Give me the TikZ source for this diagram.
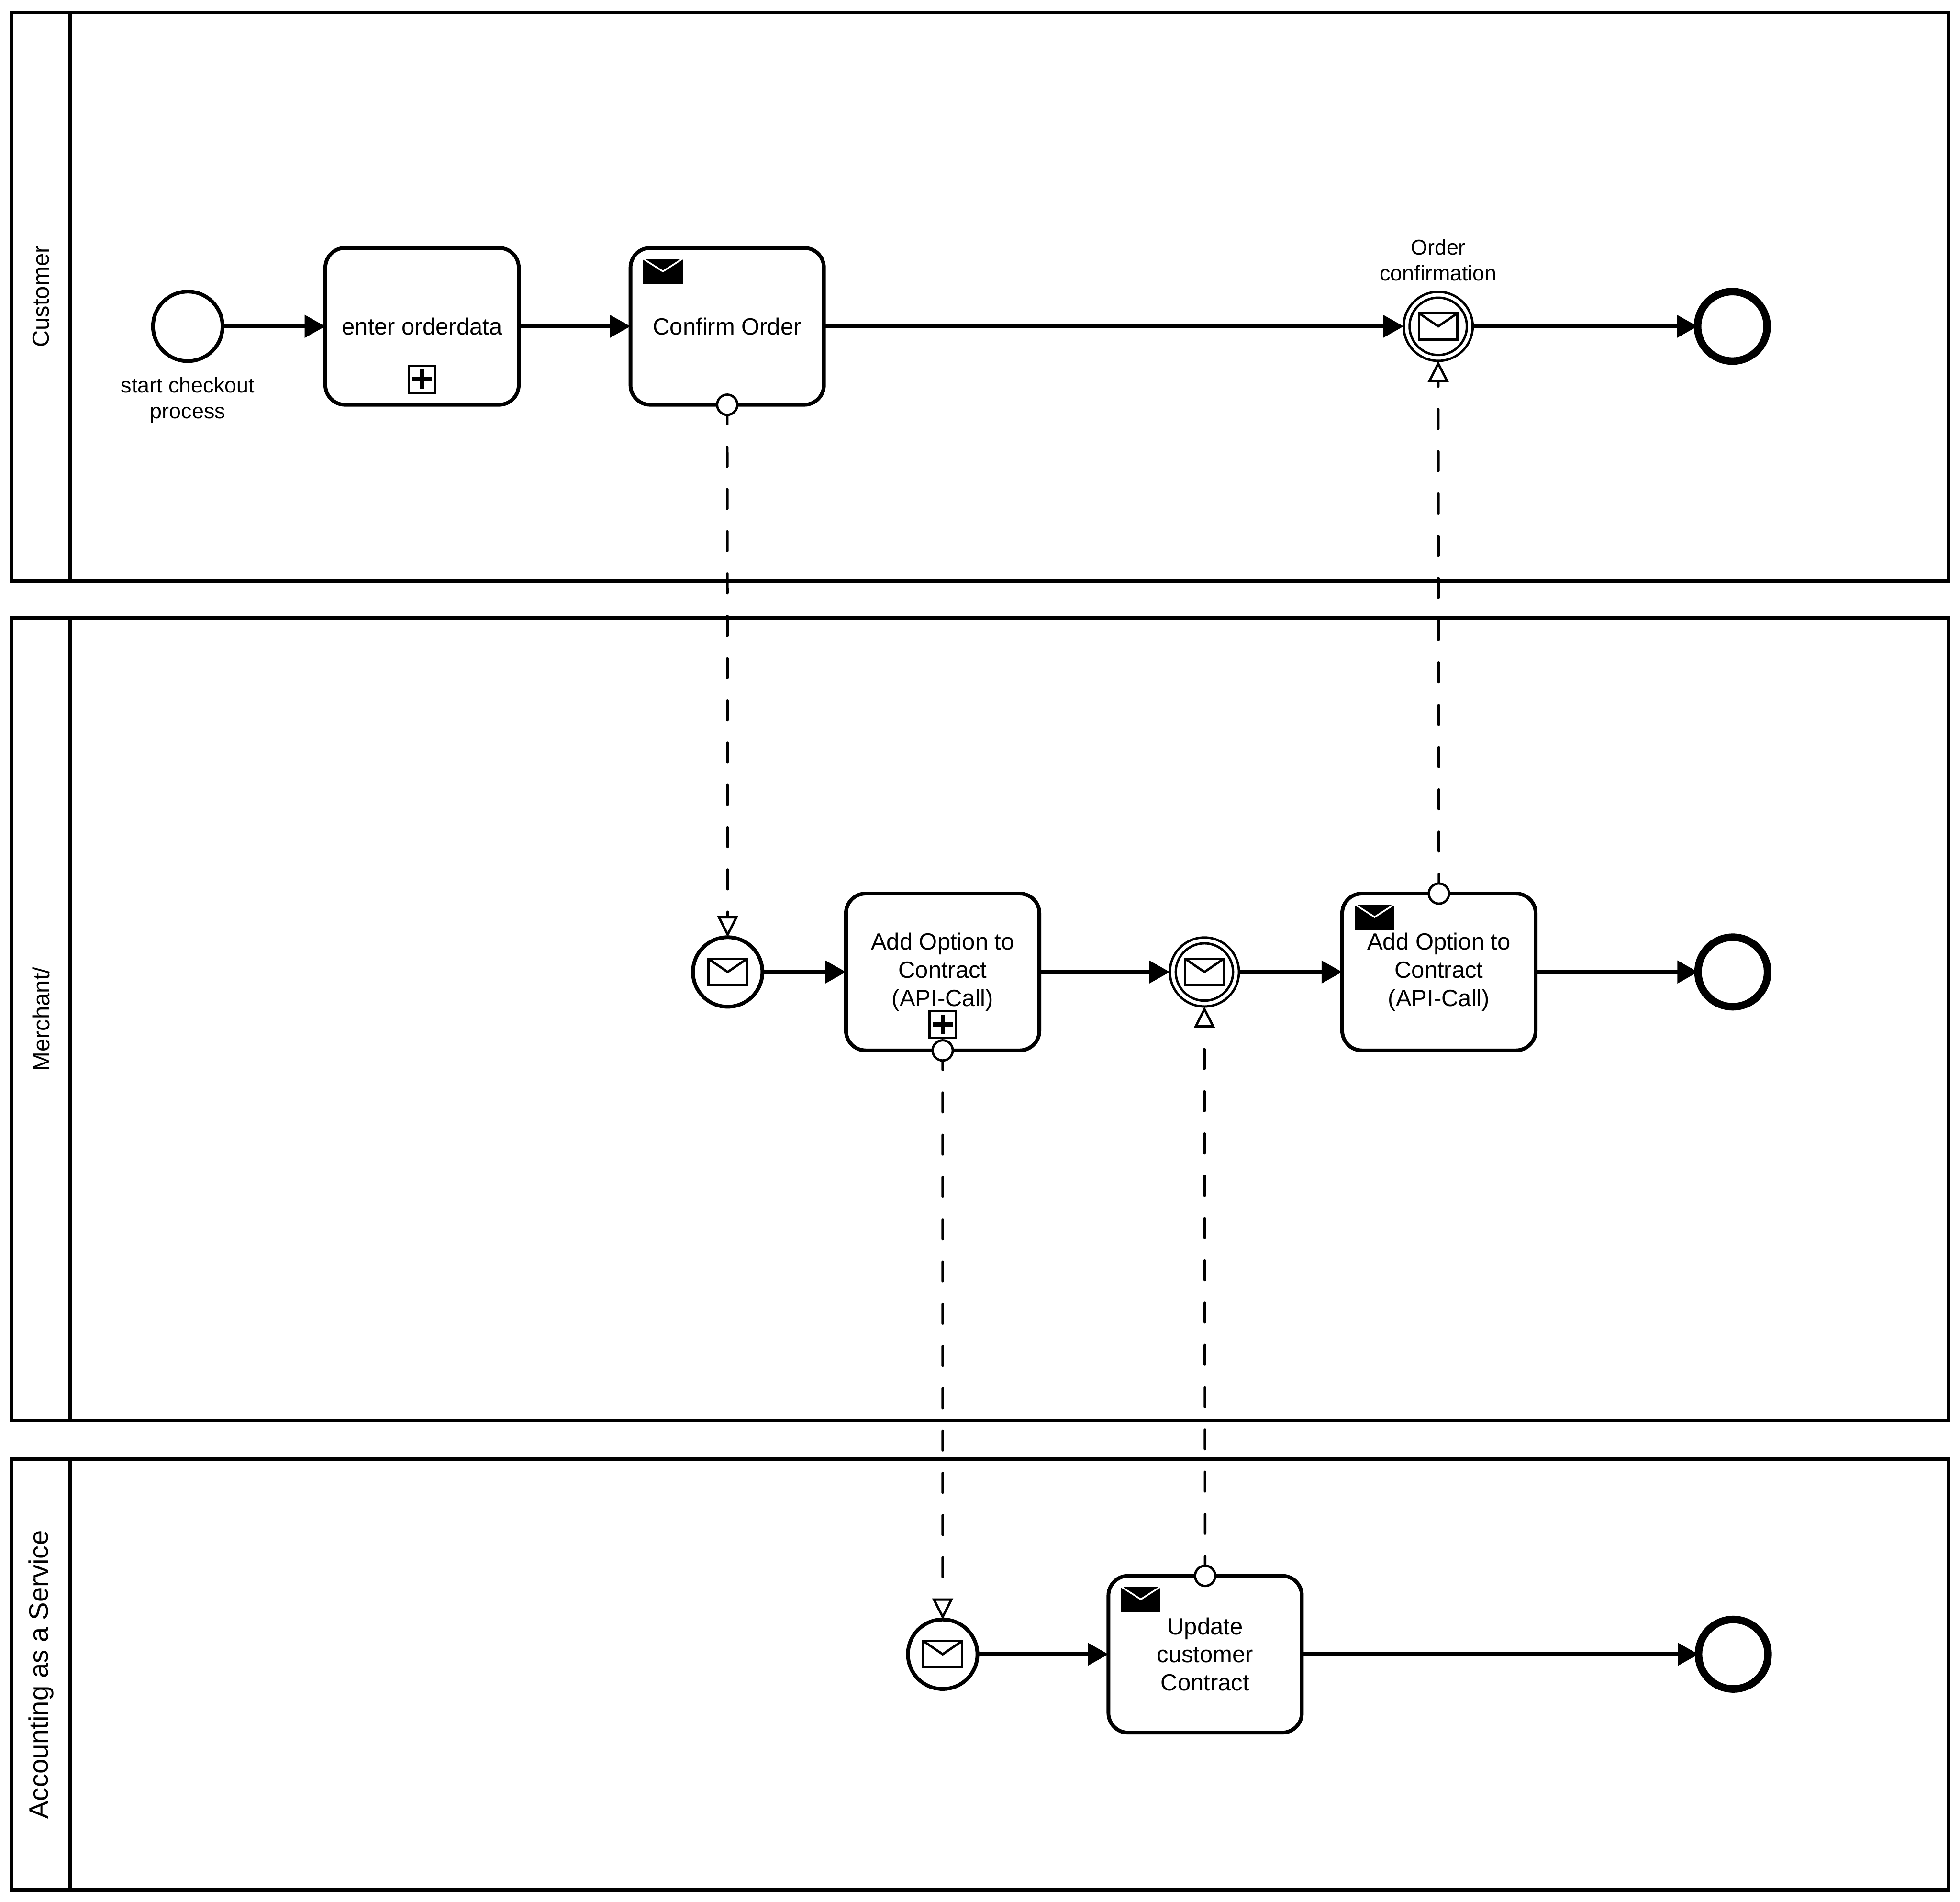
\documentclass[tikz,border=0pt]{standalone}
\usepackage{fontspec}
\setmainfont{Liberation Sans}
\usetikzlibrary{arrows.meta,positioning}

\begin{document}
\begin{tikzpicture}[>={Triangle[length=.44cm,width=.47cm]},
  outer sep=0pt, inner sep=0pt,
  lanehead/.style={draw, line width=.08cm, rotate=90, minimum height=1.25cm, font=\fontsize{14.2}{17}\selectfont},
  lanebody/.style={draw, line width=.08cm, minimum width=40cm},
  task/.style={draw, line width=.08cm, rounded corners=.42cm, minimum width=4.12cm, minimum height=3.34cm, align=center, font=\fontsize{14.2}{17}\selectfont},
  event/.style={draw, circle, line width=.08cm, minimum size=1.48cm},
  endevent/.style={draw, circle, line width=.16cm, minimum size=1.48cm},
  catch/.style={draw, circle, line width=.05cm, minimum size=1.47cm},
  ring/.style={draw, circle, line width=.05cm, minimum size=1.22cm},
  evlabel/.style={align=center, font=\fontsize{13}{15.6}\selectfont},
  mailopen/.style={draw, fill=white, line width=.05cm, minimum width=.82cm, minimum height=.56cm,
    path picture={\draw[line width=.05cm] (path picture bounding box.north west) -- (path picture bounding box.center) -- (path picture bounding box.north east);}},
  mailfull/.style={fill=black, minimum width=.84cm, minimum height=.54cm,
    path picture={\draw[white, line width=.035cm] (path picture bounding box.north west) -- (path picture bounding box.center) -- (path picture bounding box.north east);}},
  plusbox/.style={draw, fill=white, line width=.05cm, minimum size=.57cm,
    path picture={\draw[line width=.09cm] ([xshift=-.21cm]path picture bounding box.center) -- ([xshift=.21cm]path picture bounding box.center);
      \draw[line width=.09cm] ([yshift=-.21cm]path picture bounding box.center) -- ([yshift=.21cm]path picture bounding box.center);}},
  flow/.style={->, line width=.08cm},
  msgflow/.style={line width=.055cm, line cap=round, dash pattern=on .415cm off .485cm,
    -{Triangle[open, length=.45cm, width=.44cm, line width=.05cm]}},
  msgdot/.style={draw, circle, fill=white, line width=.05cm, minimum size=.43cm}]
  \useasboundingbox (0,0) rectangle (41.75,-40.5);

  \node[lanehead, minimum width=12.11cm] (headCustomer) at (.875,-6.315) {Customer};
  \node[lanebody, minimum height=12.11cm] (laneCustomer) at (21.5,-6.315) {};
  \node[lanehead, minimum width=17.09cm] (headMerchant) at (.875,-21.705) {Merchant/};
  \node[lanebody, minimum height=17.09cm] (laneMerchant) at (21.5,-21.705) {};
  \node[lanehead, minimum width=9.17cm, font=\fontsize{16.3}{19}\selectfont] (headService) at (.875,-35.665) {Accounting as a Service};
  \node[lanebody, minimum height=9.17cm] (laneService) at (21.5,-35.665) {};

  \node[event] (start) at (4.00,-6.95) {};
  \node[task, right=2.19cm of start] (enter) {enter orderdata};
  \node[task, right=2.38cm of enter] (confirm) {Confirm Order};
  \node[catch, right=12.35cm of confirm] (notice) {};
  \node[endevent, right=4.79cm of notice] (endCustomer) {};

  \node[event] (recvMerchant) at (15.50,-20.70) {};
  \node[task, right=1.78cm of recvMerchant] (addOption) {Add Option to\\Contract\\(API-Call)};
  \node[catch, right=2.78cm of addOption] (waitMerchant) {};
  \node[task, right=2.20cm of waitMerchant] (sendOption) {Add Option to\\Contract\\(API-Call)};
  \node[endevent, right=3.46cm of sendOption] (endMerchant) {};

  \node[event] (recvService) at (20.08,-35.23) {};
  \node[task, right=2.79cm of recvService] (update) {Update\\customer\\Contract};
  \node[endevent, right=8.45cm of update] (endService) {};

  \node[evlabel, below=.34cm of start] (startLabel) {start checkout\\process};
  \node[evlabel, above=.23cm of notice] (noticeLabel) {Order\\confirmation};

  \node[ring] (noticeRing) at (notice) {};
  \node[ring] (waitRing) at (waitMerchant) {};
  \node[mailopen] (noticeMail) at (notice) {};
  \node[mailopen] (waitMail) at (waitMerchant) {};
  \node[mailopen] (recvMail) at (recvMerchant) {};
  \node[mailopen] (serviceMail) at (recvService) {};

  \node[mailfull, below right=.23cm and .27cm of confirm.north west] (confirmMail) {};
  \node[mailfull, below right=.23cm and .27cm of sendOption.north west] (sendMail) {};
  \node[mailfull, below right=.23cm and .27cm of update.north west] (updateMail) {};
  \node[plusbox, above=.26cm of enter.south] (enterPlus) {};
  \node[plusbox, above=.27cm of addOption.south] (addPlus) {};

  \draw[flow] (start) -- (enter);
  \draw[flow] (enter) -- (confirm);
  \draw[flow] (confirm) -- (notice);
  \draw[flow] (notice) -- (endCustomer);
  \draw[flow] (recvMerchant) -- (addOption);
  \draw[flow] (addOption) -- (waitMerchant);
  \draw[flow] (waitMerchant) -- (sendOption);
  \draw[flow] (sendOption) -- (endMerchant);
  \draw[flow] (recvService) -- (update);
  \draw[flow] (update) -- (endService);

  \draw[msgflow] (confirm.south) -- (recvMerchant.north);
  \draw[msgflow] (sendOption.north) -- (notice.south);
  \draw[msgflow] (addOption.south) -- (recvService.north);
  \draw[msgflow] (update.north) -- (waitMerchant.south);

  \node[msgdot] (confirmDot) at (confirm.south) {};
  \node[msgdot] (sendDot) at (sendOption.north) {};
  \node[msgdot] (addDot) at (addOption.south) {};
  \node[msgdot] (updateDot) at (update.north) {};
\end{tikzpicture}
\end{document}
